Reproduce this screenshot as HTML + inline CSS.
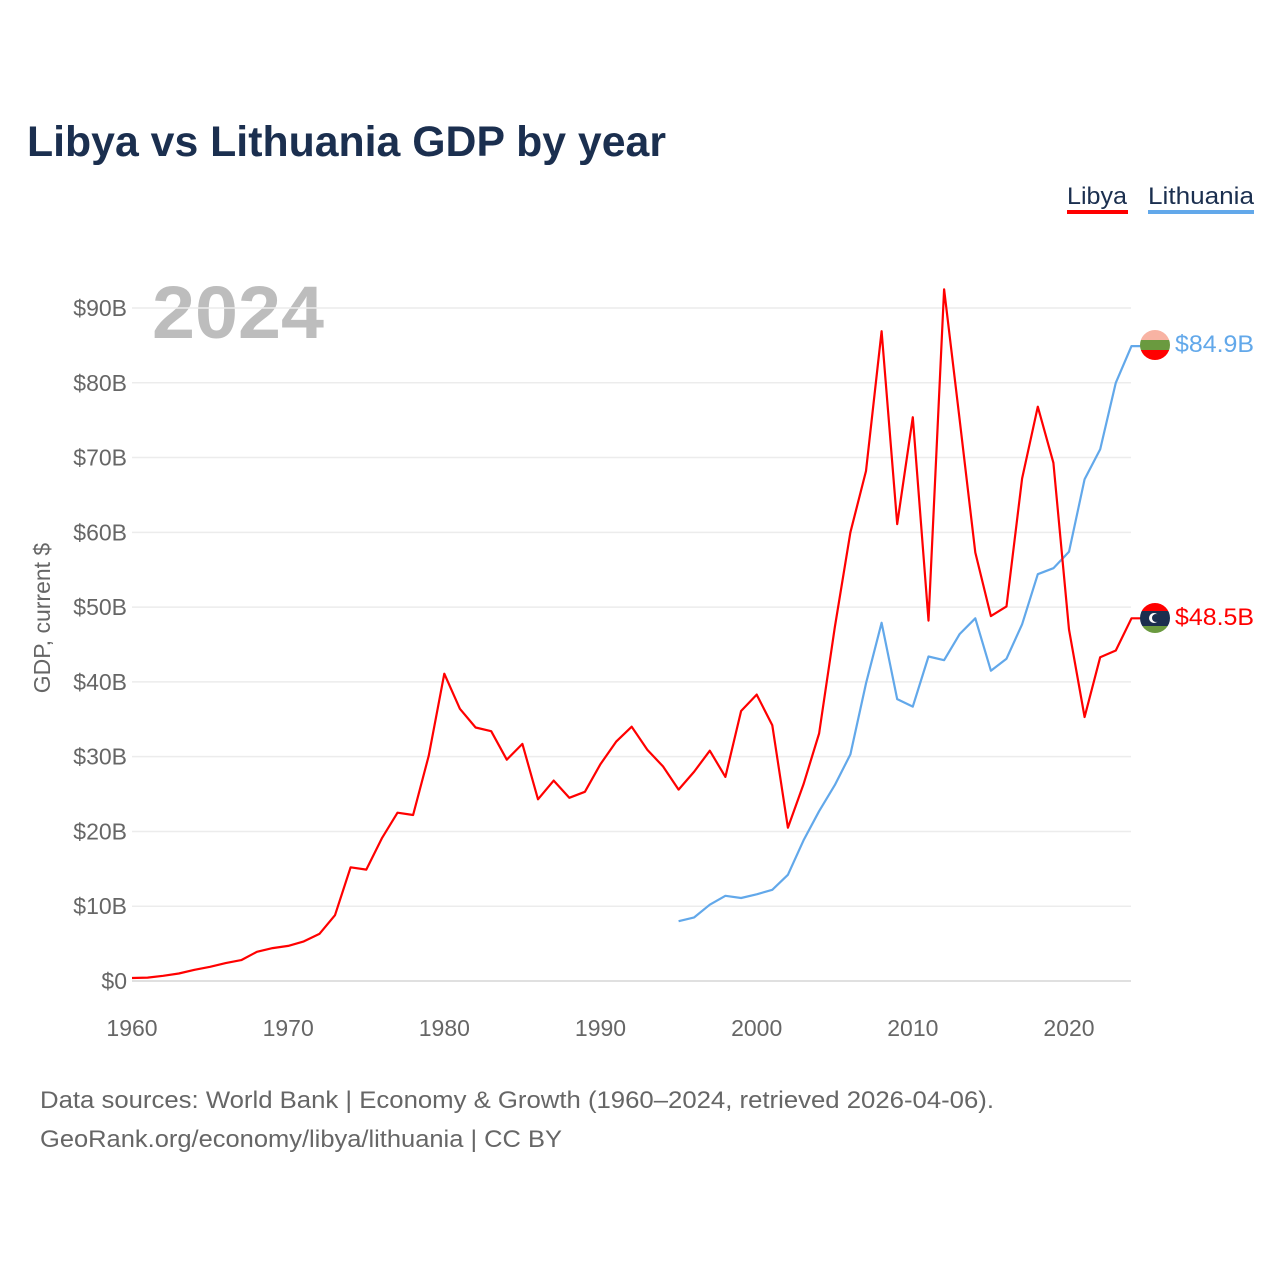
<!DOCTYPE html>
<html><head><meta charset="utf-8"><style>
body{margin:0;background:#fff;font-family:"Liberation Sans",sans-serif;}
#wrap{position:relative;width:1280px;height:1280px;overflow:hidden;}
</style></head><body>
<div id="wrap">
<svg id="chart" width="1280" height="1280" xmlns="http://www.w3.org/2000/svg">
<text x="27" y="156" font-size="43" font-weight="bold" fill="#1b2f4f" textLength="639" lengthAdjust="spacingAndGlyphs">Libya vs Lithuania GDP by year</text>
<g>
<text x="1067" y="204" font-size="24" fill="#1b2f4f" textLength="60" lengthAdjust="spacingAndGlyphs">Libya</text>
<rect x="1067" y="210" width="61" height="4" fill="#ff0000"/>
<text x="1148" y="204" font-size="24" fill="#1b2f4f" textLength="106" lengthAdjust="spacingAndGlyphs">Lithuania</text>
<rect x="1148" y="210" width="106" height="4" fill="#62a8ea"/>
</g>
<text x="152" y="338" font-size="74" font-weight="bold" fill="#bdbdbd" textLength="172" lengthAdjust="spacingAndGlyphs">2024</text>
<text transform="translate(50,618) rotate(-90)" text-anchor="middle" font-size="23" fill="#666">GDP, current $</text>
<g id="grid"></g><g id="ylab"></g><g id="xlab"></g><g id="lines"></g>
<g>
<clipPath id="c1"><circle cx="1155" cy="345" r="15"/></clipPath>
<g clip-path="url(#c1)"><rect x="1140" y="330" width="30" height="10" fill="#f8b3a3"/><rect x="1140" y="340" width="30" height="10" fill="#6a9a3f"/><rect x="1140" y="350" width="30" height="10" fill="#ff0000"/></g>
</g>
<g>
<clipPath id="c2"><circle cx="1155" cy="618" r="15"/></clipPath>
<g clip-path="url(#c2)"><rect x="1140" y="603" width="30" height="8" fill="#ff0000"/><rect x="1140" y="611" width="30" height="15" fill="#1b2f4f"/><rect x="1140" y="626" width="30" height="8" fill="#6a9a3f"/>
<circle cx="1154" cy="618" r="5" fill="#fff"/><circle cx="1156" cy="618" r="4" fill="#1b2f4f"/></g>
</g>
<text x="1175" y="352" font-size="24" fill="#62a8ea" textLength="79" lengthAdjust="spacingAndGlyphs">$84.9B</text>
<text x="1175" y="625" font-size="24" fill="#ff0000" textLength="79" lengthAdjust="spacingAndGlyphs">$48.5B</text>
<text x="40" y="1108" font-size="24" fill="#666" textLength="954" lengthAdjust="spacingAndGlyphs">Data sources: World Bank | Economy &amp; Growth (1960–2024, retrieved 2026-04-06).</text>
<text x="40" y="1147" font-size="24" fill="#666" textLength="522" lengthAdjust="spacingAndGlyphs">GeoRank.org/economy/libya/lithuania | CC BY</text>
</svg>
</div>
<script>
const libyaYears = Array.from({length:65},(_, i)=>1960+i);
const libyaValues = [0.4,0.45,0.7,1.0,1.5,1.9,2.4,2.8,3.9,4.4,4.7,5.3,6.3,8.8,15.2,14.9,19.1,22.5,22.2,30.1,41.1,36.4,33.9,33.4,29.6,31.7,24.3,26.8,24.5,25.3,29.0,32.0,34.0,30.9,28.7,25.6,28.0,30.8,27.3,36.1,38.3,34.2,20.5,26.3,33.1,47.3,60.0,68.2,86.9,61.1,75.4,48.2,92.5,75.0,57.3,48.8,50.1,67.2,76.8,69.3,47.0,35.3,43.3,44.2,48.5];
const lithYears = Array.from({length:30},(_, i)=>1995+i);
const lithValues = [8.0,8.5,10.2,11.4,11.1,11.6,12.2,14.2,18.8,22.7,26.2,30.3,39.8,47.9,37.7,36.7,43.4,42.9,46.4,48.5,41.5,43.1,47.7,54.4,55.2,57.4,67.1,71.1,80.0,84.9];
const yTicks = [0,10,20,30,40,50,60,70,80,90];
const xTicks = [1960,1970,1980,1990,2000,2010,2020];

const NS="http://www.w3.org/2000/svg";
const xs = yr => 132 + (yr-1960)*(937/60);
const ys = v => 981 - v*7.478;
function mk(tag, attrs, parent){const e=document.createElementNS(NS,tag);for(const k in attrs)e.setAttribute(k,attrs[k]);document.getElementById(parent).appendChild(e);return e;}
yTicks.forEach(t=>{
  const l=mk('line',{x1:132,x2:1131,y1:ys(t),y2:ys(t),stroke:t===0?'#e0e0e0':'#ececec','stroke-width':t===0?2:1.5},'grid');
  
  
  const tx=mk('text',{x:127,y:ys(t)+8,'text-anchor':'end','font-size':23,fill:'#666'},'ylab');
  tx.textContent='$'+t+(t===0?'':'B');
  
  
});
xTicks.forEach(t=>{
  const tx=mk('text',{x:xs(t),y:1036,'text-anchor':'middle','font-size':23,fill:'#666'},'xlab');
  tx.textContent=t;
  
  
});
function line(years, vals, color, name){
  let d=years.map((y,i)=>(i?'L':'M')+xs(y).toFixed(1)+' '+ys(vals[i]).toFixed(1)).join(' ');
  d+=' L '+(xs(years[years.length-1])+10).toFixed(1)+' '+ys(vals[vals.length-1]).toFixed(1);
  const p=mk('path',{d:d,fill:'none',stroke:color,'stroke-width':2.2,'stroke-linejoin':'round'},'lines');
  
  
}
line(lithYears, lithValues, '#62a8ea', 'lithuania-line');
line(libyaYears, libyaValues, '#ff0000', 'libya-line');
</script>
</body></html>
